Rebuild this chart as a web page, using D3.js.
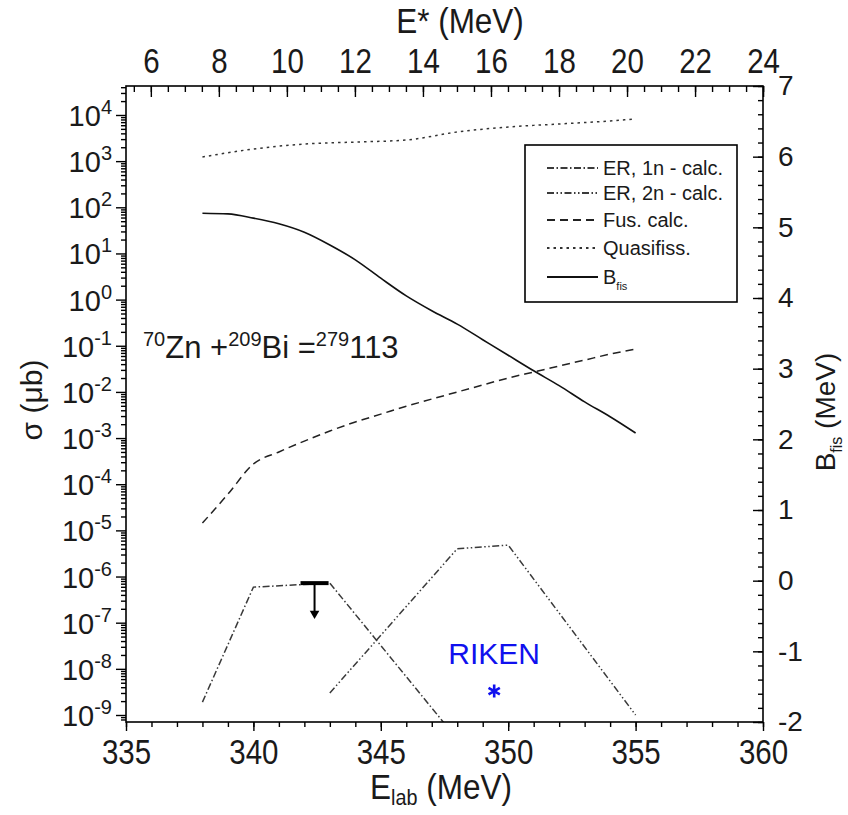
<!DOCTYPE html>
<html>
<head>
<meta charset="utf-8">
<script src="https://cdn.jsdelivr.net/npm/d3@7"></script>
<style>
  body { margin: 0; background: #fff; }
  text { font-family: "Liberation Sans", Arial, sans-serif; fill: #1a1a1a; }
</style>
</head>
<body>
<svg id="chart" width="848" height="815"></svg>
<script>
// Fusion cross section (μb) vs. lab energy (MeV)
const elabFus = [338, 339, 340, 341, 342, 343, 344, 345, 346, 347, 348, 349, 350, 351, 352, 353, 354, 355];
const fusXs   = [1.44e-5, 6.1e-5, 2.74e-4, 5.0e-4, 8.6e-4, 1.42e-3, 2.23e-3, 3.3e-3, 4.9e-3, 7.0e-3,
                 9.95e-3, 1.41e-2, 2.0e-2, 2.7e-2, 3.65e-2, 4.9e-2, 6.6e-2, 8.5e-2];

// Quasifission cross section (μb)
const elabQf = [338, 340, 342, 344, 346, 348, 350, 352, 354, 355];
const qfXs   = [1230, 1830, 2350, 2590, 2870, 4280, 5490, 6380, 7410, 8200];

// Fission barrier (MeV), right axis
const elabBfis = [338, 339, 340, 341, 342, 343, 344, 345, 346, 347, 348, 349, 350, 351, 352, 353, 354, 355];
const bfisMeV  = [5.20, 5.19, 5.13, 5.05, 4.93, 4.75, 4.54, 4.28, 4.03, 3.82, 3.63, 3.41, 3.19, 2.97,
                  2.76, 2.53, 2.32, 2.09];

// Evaporation residue cross sections (μb)
const elabEr1n = [338, 340, 343, 348];
const er1nXs   = [1.9e-9, 5.9e-7, 7.2e-7, 3.0e-10];
const elabEr2n = [343, 348, 350, 355];
const er2nXs   = [3.0e-9, 4.0e-6, 4.8e-6, 1.0e-9];

// Upper limit (bar + arrow) and RIKEN point
const limitElab = 342.4, limitHalfWidth = 0.55, limitXs = 7.2e-7, limitArrowXs = 1.3e-7;
const rikenElab = 349.45, rikenXs = 3.3e-9;

// Axis ticks
const elabTicks  = [335, 340, 345, 350, 355, 360];
const elabMinor  = d3.range(335, 361, 1);
const estarTicks = [6, 8, 10, 12, 14, 16, 18, 20, 22, 24];
const estarMinor = d3.range(5.5, 24.01, 0.5);
const xsDecades  = d3.range(-9, 5);
const bfisTicks  = d3.range(-2, 8);
const bfisMinor  = d3.range(-2, 7.001, 0.2);

const legendLabels = ["ER, 1n - calc.", "ER, 2n - calc.", "Fus. calc.", "Quasifiss.", "B"];

// Excitation energy of the compound nucleus from the lab energy (70Zn + 209Bi)
const toEstar = e => e * 209 / 279 - 245.68;

const svg = d3.select("#chart");
const L = 126, R = 763, T = 86, B = 722;
const NARROW = "scale(0.82,1)";   // condensed look for the energy-axis labels

const x = d3.scaleLinear().domain([335, 360]).range([L, R]);
const xTop = d3.scaleLinear().domain([toEstar(335), toEstar(360)]).range([L, R]);
const y = d3.scaleLog().domain([Math.pow(10, -9.1517), Math.pow(10, 4.628)]).range([B, T]);
const yR = d3.scaleLinear().domain([-2, 7]).range([B, T]);

svg.append("defs").append("clipPath").attr("id", "plotClip")
  .append("rect").attr("x", L).attr("y", T).attr("width", R - L).attr("height", B - T);

const styles = {
  er1n: { dash: "7,2.5,1.5,2.5", color: "#3a3a3a", w: 1.5, curve: d3.curveLinear },
  er2n: { dash: "7,2.5,1.5,2.5,1.5,2.5", color: "#3a3a3a", w: 1.5, curve: d3.curveLinear },
  fus:  { dash: "8,5", color: "#222", w: 1.5, curve: d3.curveMonotoneX },
  qf:   { dash: "2.5,4", color: "#333", w: 1.5, curve: d3.curveMonotoneX },
  bfis: { dash: null, color: "#111", w: 1.6, curve: d3.curveMonotoneX }
};

// --- curves
const plot = svg.append("g").attr("clip-path", "url(#plotClip)");
function drawLine(es, vs, yScale, st) {
  const line = d3.line().curve(st.curve).x(d => x(d[0])).y(d => yScale(d[1]));
  plot.append("path")
    .datum(es.map((e, i) => [e, vs[i]]))
    .attr("d", line)
    .attr("fill", "none")
    .attr("stroke", st.color)
    .attr("stroke-width", st.w)
    .attr("stroke-dasharray", st.dash);
}
drawLine(elabQf, qfXs, y, styles.qf);
drawLine(elabFus, fusXs, y, styles.fus);
drawLine(elabBfis, bfisMeV, yR, styles.bfis);
drawLine(elabEr1n, er1nXs, y, styles.er1n);
drawLine(elabEr2n, er2nXs, y, styles.er2n);

// upper limit: thick horizontal bar with arrow pointing down
plot.append("line")
  .attr("x1", x(limitElab - limitHalfWidth)).attr("x2", x(limitElab + limitHalfWidth))
  .attr("y1", y(limitXs)).attr("y2", y(limitXs))
  .attr("stroke", "#000").attr("stroke-width", 4);
plot.append("line")
  .attr("x1", x(limitElab)).attr("x2", x(limitElab))
  .attr("y1", y(limitXs)).attr("y2", y(limitArrowXs) - 6)
  .attr("stroke", "#000").attr("stroke-width", 2);
plot.append("path")
  .attr("d", d3.symbol(d3.symbolTriangle, 40)())
  .attr("transform", `translate(${x(limitElab)},${y(limitArrowXs) - 4}) rotate(180)`)
  .attr("fill", "#000");

// RIKEN point
svg.append("path")
  .attr("d", d3.symbol(d3.symbolAsterisk, 120)())
  .attr("transform", `translate(${x(rikenElab)},${y(rikenXs)})`)
  .attr("fill", "none").attr("stroke", "#1010ee").attr("stroke-width", 2.6);
svg.append("text")
  .attr("x", x(rikenElab)).attr("y", y(rikenXs) - 27)
  .attr("text-anchor", "middle")
  .style("font-size", "30px").style("fill", "#1010ee")
  .text("RIKEN");

// --- frame
svg.append("rect").attr("x", L).attr("y", T).attr("width", R - L).attr("height", B - T)
  .attr("fill", "none").attr("stroke", "#000").attr("stroke-width", 1.6);

function styleAxis(g) {
  g.select(".domain").remove();
  g.selectAll("line").attr("stroke", "#000").attr("stroke-width", 1.4);
  g.selectAll("text").style("font-size", "28px").attr("fill", "#1a1a1a");
}
function narrowLabels(g) {
  g.selectAll("text").style("font-size", "36px").attr("transform", NARROW);
}
const plain = d => String(d);

// bottom axis (ticks outward)
svg.append("g").attr("transform", `translate(0,${B})`)
  .call(d3.axisBottom(x).tickValues(elabMinor).tickSize(5).tickFormat(""))
  .call(styleAxis);
svg.append("g").attr("transform", `translate(0,${B})`)
  .call(d3.axisBottom(x).tickValues(elabTicks).tickSize(9).tickPadding(7).tickFormat(plain))
  .call(styleAxis).call(narrowLabels);

// top axis (ticks inward)
svg.append("g").attr("transform", `translate(0,${T})`)
  .call(d3.axisTop(xTop).tickValues(estarMinor).tickSizeInner(-6).tickSizeOuter(0).tickFormat(""))
  .call(styleAxis);
svg.append("g").attr("transform", `translate(0,${T})`)
  .call(d3.axisTop(xTop).tickValues(estarTicks).tickSizeInner(-11).tickSizeOuter(0).tickPadding(13).tickFormat(plain))
  .call(styleAxis).call(narrowLabels);

// right axis (ticks inward)
svg.append("g").attr("transform", `translate(${R},0)`)
  .call(d3.axisRight(yR).tickValues(bfisMinor).tickSizeInner(-5).tickSizeOuter(0).tickFormat(""))
  .call(styleAxis);
svg.append("g").attr("transform", `translate(${R},0)`)
  .call(d3.axisRight(yR).tickValues(bfisTicks).tickSizeInner(-10).tickSizeOuter(0).tickPadding(15).tickFormat(plain))
  .call(styleAxis);

// left log axis (ticks outward)
const minorVals = [];
d3.range(-10, 5).forEach(k => d3.range(2, 10).forEach(m => {
  const v = m * Math.pow(10, k);
  if (v > y.domain()[0] && v < y.domain()[1]) minorVals.push(v);
}));
svg.append("g").attr("transform", `translate(${L},0)`)
  .call(d3.axisLeft(y).tickValues(minorVals).tickSize(5).tickFormat(""))
  .call(styleAxis);
svg.append("g").attr("transform", `translate(${L},0)`)
  .call(d3.axisLeft(y).tickValues(xsDecades.map(k => Math.pow(10, k))).tickSize(10).tickFormat(""))
  .call(styleAxis);
const leftLabels = svg.append("g");
xsDecades.forEach(k => {
  const t = leftLabels.append("text")
    .attr("x", L - 14).attr("y", y(Math.pow(10, k)) + 11)
    .attr("text-anchor", "end").style("font-size", "29px");
  t.append("tspan").text("10");
  t.append("tspan").attr("dy", -12).style("font-size", "20px").text(k < 0 ? "-" + (-k) : String(k));
});

// --- axis titles
svg.append("g").attr("transform", "translate(460,33)")
  .append("text").attr("transform", "scale(0.9,1)").attr("text-anchor", "middle")
  .style("font-size", "35px").text("E* (MeV)");

const botTitle = svg.append("g").attr("transform", "translate(441,799)")
  .append("text").attr("transform", "scale(0.9,1)").attr("text-anchor", "middle")
  .style("font-size", "35px");
botTitle.append("tspan").text("E");
botTitle.append("tspan").attr("dy", 6).style("font-size", "22px").text("lab");
botTitle.append("tspan").attr("dy", -6).text(" (MeV)");

svg.append("text").attr("transform", "translate(42,400) rotate(-90)")
  .attr("text-anchor", "middle").style("font-size", "30px").text("σ (μb)");

const rTitle = svg.append("text").attr("transform", "translate(835,412) rotate(-90)")
  .attr("text-anchor", "middle").style("font-size", "28px");
rTitle.append("tspan").text("B");
rTitle.append("tspan").attr("dy", 7).style("font-size", "16px").text("fis");
rTitle.append("tspan").attr("dy", -7).text(" (MeV)");

// --- reaction label
const react = svg.append("text").attr("x", 143).attr("y", 358).style("font-size", "31px");
react.append("tspan").attr("dy", -12).style("font-size", "20px").text("70");
react.append("tspan").attr("dy", 12).text("Zn +");
react.append("tspan").attr("dy", -12).style("font-size", "20px").text("209");
react.append("tspan").attr("dy", 12).text("Bi =");
react.append("tspan").attr("dy", -12).style("font-size", "20px").text("279");
react.append("tspan").attr("dy", 12).text("113");

// --- legend
const lg = svg.append("g");
lg.append("rect").attr("x", 525).attr("y", 145).attr("width", 212).attr("height", 157)
  .attr("fill", "#fff").attr("stroke", "#000").attr("stroke-width", 1.6);
const legendStyles = [styles.er1n, styles.er2n, styles.fus, styles.qf, styles.bfis];
const rowY = [168, 193, 220, 248, 277];
legendLabels.forEach((lab, i) => {
  const st = legendStyles[i];
  lg.append("line").attr("x1", 547).attr("x2", 598).attr("y1", rowY[i]).attr("y2", rowY[i])
    .attr("stroke", st.color).attr("stroke-width", 1.8).attr("stroke-dasharray", st.dash);
  const t = lg.append("text").attr("x", 603).attr("y", rowY[i] + 7).style("font-size", "20px");
  t.append("tspan").text(lab);
  if (i === 4) t.append("tspan").attr("dy", 6).style("font-size", "11px").text("fis");
});
</script>
</body>
</html>
